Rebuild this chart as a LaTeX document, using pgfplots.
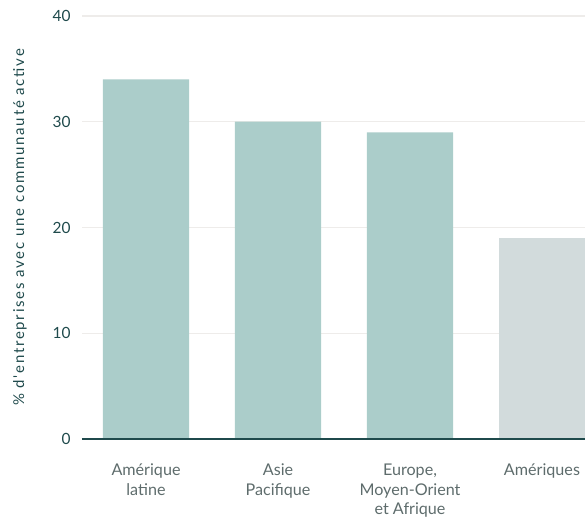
\documentclass[border=0pt]{standalone}
\usepackage{pgfplots}
\pgfplotsset{compat=1.18}
\usepackage{fontspec}
\setmainfont{Lato}
\newfontfamily\ylabfont[LetterSpace=12]{Lato}
\definecolor{barteal}{HTML}{ABCDCA}
\definecolor{bargray}{HTML}{D2DBDC}
\definecolor{darkteal}{HTML}{1F4A4C}
\definecolor{labgray}{HTML}{5E6C6C}
\definecolor{gridc}{HTML}{EEECEA}
\begin{document}
\begin{tikzpicture}
\useasboundingbox (-82bp,-79bp) rectangle (506bp,439bp);
\begin{axis}[
  at={(0,0)}, anchor=south west,
  scale only axis,
  width=503bp, height=423bp,
  xmin=-0.485, xmax=3.326,
  ymin=0, ymax=40,
  ytick={0,10,20,30,40},
  xtick={0,1,2,3},
  xticklabels={{Amérique\\latine},{Asie\\Pacifique},{Europe,\\Moyen-Orient\\et Afrique},{Amériques}},
  axis line style={draw=none},
  major tick length=0pt,
  ymajorgrids,
  grid style={gridc, line width=1.2pt},
  yticklabel style={font=\fontsize{15.5}{17}\selectfont, text=darkteal, xshift=-8bp},
  xticklabel style={font=\fontsize{16.2}{20}\selectfont, text=labgray, align=center, anchor=north, yshift=-21bp},
  /pgf/number format/assume math mode=true,
  ylabel={\% d'entreprises avec une communauté active},
  ylabel style={font=\ylabfont\fontsize{15}{17}\selectfont, text=darkteal, at={(rel axis cs:0,0.5)}, anchor=center, yshift=62bp},
  clip=false,
]
\addplot[ybar, bar width=0.652, fill=barteal, draw=none] coordinates {(0,34) (1,30) (2,29)};
\addplot[ybar, bar width=0.652, fill=bargray, draw=none] coordinates {(3,19)};
\draw[darkteal, line width=1.6pt] (axis cs:-0.485,0) -- (axis cs:3.326,0);
\end{axis}
\end{tikzpicture}
\end{document}
